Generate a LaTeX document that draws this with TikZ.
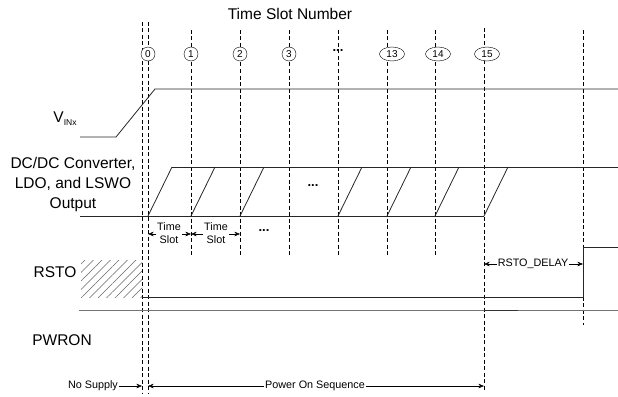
\documentclass[tikz,border=0pt]{standalone}
\usepackage{fontspec}
\setmainfont{Liberation Sans}
\usetikzlibrary{arrows.meta,positioning,shapes.geometric,patterns.meta}

\begin{document}
\begin{tikzpicture}[
  x=1pt,y=-1pt,
  sig/.style={line width=0.8pt,black!85},
  grid/.style={line width=0.6pt,dash pattern=on 4pt off 2.5pt},
  slot/.style={draw,circle,fill=white,inner sep=0pt,minimum size=14pt,font=\fontsize{10}{10}\selectfont},
  slotwide/.style={draw,ellipse,fill=white,inner sep=0pt,minimum width=25pt,minimum height=14pt,font=\fontsize{10}{10}\selectfont},
  lbl/.style={align=center,font=\fontsize{15.5}{20}\selectfont},
  small/.style={inner sep=1pt,align=center,font=\fontsize{10.8}{13}\selectfont},
  dots/.style={inner sep=1pt,font=\fontsize{13}{13}\bfseries},
  dim/.style={line width=0.5pt,-{Stealth[length=2mm,width=1.6mm]}}
]
\useasboundingbox (0,0) rectangle (618,396);

% time slot grid
\node[lbl] (title) at (290,14) {Time Slot Number};
\draw[grid] (142,22) -- (142,393);
\draw[grid] (148,22) -- (148,393);
\foreach \x in {191,240,289,338,387,435}
  \draw[grid] (\x,30) -- (\x,255);
\draw[grid] (484,28) -- (484,390);
\draw[grid] (583,30) -- (583,325);

\node[slot] (s0) at (148,54) {0};
\node[slot] (s1) at (191,54) {1};
\node[slot] (s2) at (240,54) {2};
\node[slot] (s3) at (289,54) {3};
\node[dots] (sdots) at (338,51) {...};
\node[slotwide] (s13) at (392,54) {13};
\node[slotwide] (s14) at (438,54) {14};
\node[slotwide] (s15) at (487,54) {15};

% VINx
\node[lbl] (vin) at (65,119) {V\raisebox{-0.35ex}{\fontsize{8.5}{9}\selectfont INx}};
\draw[sig] (80,137) -- (116,137) -- (155,89) -- (618,89);

% regulator outputs
\node[lbl] (reg) at (73,184) {DC/DC Converter,\\LDO, and LSWO\\Output};
\draw[sig] (80,216) -- (484,216);
\draw[sig] (172,167) -- (618,167);
\foreach \x in {148,191,240,338,387,435,484}
  \draw[sig] (\x,216) -- ++(24,-49);
\node[dots] (rdots) at (313,186) {...};

% slot widths
\node[small] (ts1) at (169,233) {Time\\Slot};
\node[small] (ts2) at (216,233) {Time\\Slot};
\node[dots] (tdots) at (264,231) {...};
\coordinate (a0) at (148,234);
\coordinate (a1) at (191,234);
\coordinate (a2) at (240,234);
\draw[dim] (ts1.west |- a0) -- (a0);
\draw[dim] (ts1.east |- a1) -- (a1);
\draw[dim] (ts2.west |- a1) -- (a1);
\draw[dim] (ts2.east |- a2) -- (a2);

% RSTO
\node[lbl] (rsto) at (55,272) {RSTO};
\fill[pattern={Lines[angle=45,distance=6pt,line width=0.5pt]},pattern color=black!60] (81,260) rectangle (142,297);
\draw[sig] (142,297) -- (583,297) -- (583,247) -- (618,247);
\node[small] (delay) at (533,264) {RSTO\_DELAY};
\coordinate (d0) at (484,264);
\coordinate (d1) at (583,264);
\draw[dim] (delay.west) -- (d0);
\draw[dim] (delay.east) -- (d1);

% PWRON
\node[lbl] (pwron) at (62,340) {PWRON};
\draw[line width=0.8pt,black!55] (79,310) -- (618,310);
\draw[line width=0.8pt,black!80] (484,310) -- (518,310);

% supply phases
\node[small] (nosup) at (93,386) {No Supply};
\node[small] (seq) at (315,386) {Power On Sequence};
\coordinate (p0) at (142,386);
\coordinate (p1) at (148,386);
\coordinate (p2) at (484,386);
\draw[dim] (nosup.east) -- (p0);
\draw[dim] (seq.west) -- (p1);
\draw[dim] (seq.east) -- (p2);
\end{tikzpicture}
\end{document}
